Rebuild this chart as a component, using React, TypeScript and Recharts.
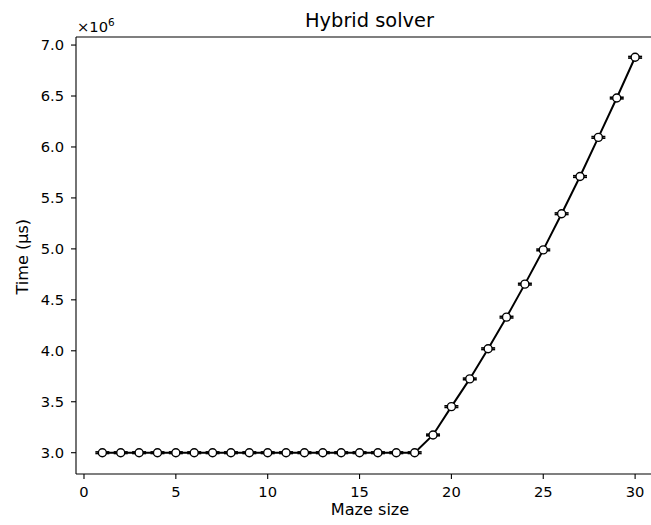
import React from 'react';
import { ComposedChart, Line, XAxis, YAxis, ErrorBar, ReferenceLine } from 'recharts';

const mazeSizes = [1, 2, 3, 4, 5, 6, 7, 8, 9, 10, 11, 12, 13, 14, 15, 16, 17, 18, 19, 20, 21, 22, 23, 24, 25, 26, 27, 28, 29, 30];
const timesUs = [
  3.0e6, 3.0e6, 3.0e6, 3.0e6, 3.0e6, 3.0e6, 3.0e6, 3.0e6, 3.0e6, 3.0e6,
  3.0e6, 3.0e6, 3.0e6, 3.0e6, 3.0e6, 3.0e6, 3.0e6, 3.0e6,
  3.174e6, 3.452e6, 3.724e6, 4.02e6, 4.33e6, 4.654e6, 4.99e6, 5.345e6, 5.71e6, 6.094e6, 6.48e6, 6.88e6,
];
const timeErrUs = [
  8000, 8000, 8000, 8000, 8000, 8000, 8000, 8000, 8000, 8000,
  8000, 8000, 8000, 8000, 8000, 8000, 8000, 8000,
  8000, 8000, 8000, 8000, 8000, 8000, 8000, 8000, 8000, 8000, 8000, 8000,
];
const xTicks = [0, 5, 10, 15, 20, 25, 30];
const yTicks = [3.0e6, 3.5e6, 4.0e6, 4.5e6, 5.0e6, 5.5e6, 6.0e6, 6.5e6, 7.0e6];
const X_DOMAIN: [number, number] = [-0.435, 30.865];
const Y_DOMAIN: [number, number] = [2.791e6, 7.079e6];

const data = mazeSizes.map((x, i) => ({ x, t: timesUs[i], err: timeErrUs[i] }));

const FONT = 'DejaVu Sans, sans-serif';

export default function App() {
  return (
    <div style={{ position: 'absolute', left: 0, top: 0, width: 651, height: 525, background: '#fff', fontFamily: FONT }}>
      <ComposedChart
        width={651}
        height={525}
        data={data}
        margin={{ top: 37, right: 0, bottom: 0, left: 0 }}
      >
        <XAxis
          dataKey="x"
          type="number"
          domain={X_DOMAIN}
          ticks={xTicks}
          allowDataOverflow
          height={51}
          axisLine={{ stroke: '#000', strokeWidth: 1.1 }}
          tickLine={{ stroke: '#000', strokeWidth: 1.1 }}
          tickSize={5}
          tickMargin={8}
          tick={{ fill: '#000', fontSize: 14.7, fontFamily: FONT }}
        />
        <YAxis
          type="number"
          domain={Y_DOMAIN}
          ticks={yTicks}
          allowDataOverflow
          width={76}
          axisLine={{ stroke: '#000', strokeWidth: 1.1 }}
          tickLine={{ stroke: '#000', strokeWidth: 1.1 }}
          tickSize={5}
          tickMargin={7}
          tickFormatter={(v: number) => (v / 1e6).toFixed(1)}
          tick={{ fill: '#000', fontSize: 14.7, fontFamily: FONT }}
        />
        <ReferenceLine y={Y_DOMAIN[1]} stroke="#000" strokeWidth={1.1} ifOverflow="extendDomain" />
        <Line
          dataKey="t"
          type="linear"
          stroke="#000"
          strokeWidth={2}
          isAnimationActive={false}
          dot={{ r: 4, fill: '#fff', stroke: '#000', strokeWidth: 1.4 }}
          activeDot={false}
        >
          <ErrorBar dataKey="err" direction="y" width={7} stroke="#000" strokeWidth={1.6} />
        </Line>
      </ComposedChart>
      <svg width={651} height={525} style={{ position: 'absolute', left: 0, top: 0, pointerEvents: 'none' }}>
        <text x={369.5} y={27.3} textAnchor="middle" fontSize={19.4} fontFamily={FONT} fill="#000">Hybrid solver</text>
        <text x={77} y={32} fontSize={14.7} fontFamily={FONT} fill="#000">
          ×10<tspan fontSize={10.5} dy={-6.5}>6</tspan>
        </text>
        <text x={370} y={514.5} textAnchor="middle" fontSize={16.1} fontFamily={FONT} fill="#000">Maze size</text>
        <text x={28} y={256.7} textAnchor="middle" fontSize={16.1} fontFamily={FONT} fill="#000" transform="rotate(-90 28 256.7)">Time (µs)</text>
      </svg>
    </div>
  );
}
